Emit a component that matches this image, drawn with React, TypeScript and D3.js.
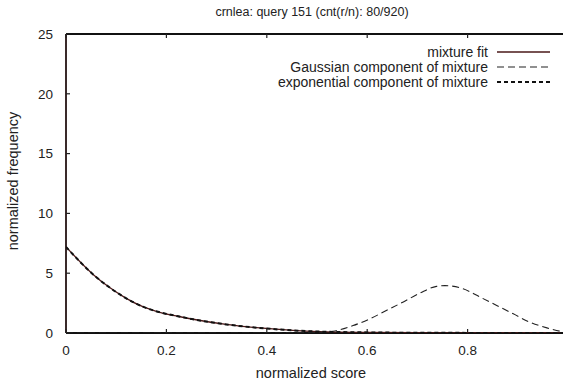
import React from "react";
import * as d3 from "d3";

const titleText = "crnlea: query 151 (cnt(r/n): 80/920)";
const xLabel = "normalized score";
const yLabel = "normalized frequency";
const xTicks = [0, 0.2, 0.4, 0.6, 0.8];
const xTickLabels = ["0", "0.2", "0.4", "0.6", "0.8"];
const yTicks = [0, 5, 10, 15, 20, 25];
const legendLabels = ["mixture fit", "Gaussian component of mixture", "exponential component of mixture"];

const mixScores = [0, 0.054, 0.087, 0.12, 0.153, 0.187, 0.223, 0.253, 0.319, 0.386, 0.452, 0.505, 0.6, 0.7, 0.8, 0.9, 1.0];
const mixValues = [7.2, 4.9, 3.8, 2.9, 2.2, 1.73, 1.4, 1.15, 0.72, 0.42, 0.22, 0.12, 0.05, 0.02, 0.01, 0.0, 0.0];
const expScores = [0, 0.054, 0.087, 0.12, 0.153, 0.187, 0.223, 0.253, 0.319, 0.386, 0.452, 0.505, 0.6, 0.7, 0.8, 0.9, 1.0];
const expValues = [7.2, 4.9, 3.8, 2.9, 2.2, 1.73, 1.4, 1.15, 0.72, 0.42, 0.22, 0.12, 0.05, 0.02, 0.01, 0.0, 0.0];
const gaussScores = [0, 0.1, 0.2, 0.3, 0.4, 0.5, 0.532, 0.572, 0.606, 0.639, 0.672, 0.705, 0.738, 0.755, 0.791, 0.825, 0.858, 0.891, 0.924, 0.958, 0.987, 1.0];
const gaussValues = [0, 0, 0, 0, 0, 0.05, 0.15, 0.62, 1.2, 1.9, 2.6, 3.33, 3.9, 3.96, 3.7, 3.0, 2.3, 1.6, 0.9, 0.43, 0.13, 0.08];

const W = 563;
const H = 382;
const left = 66;
const right = 568;
const top = 34;
const bottom = 333;
const font = "'Liberation Sans', Arial, Helvetica, sans-serif";
const fs = 13.5;
const fsLabel = 14.5;
const fsLegend = 14;

export default function App() {
  const x = d3.scaleLinear().domain([0, 1]).range([left, right]);
  const y = d3.scaleLinear().domain([0, 25]).range([bottom, top]);
  const line = d3
    .line<[number, number]>()
    .x((d) => x(d[0]))
    .y((d) => y(d[1]))
    .curve(d3.curveMonotoneX);
  const mix = line(mixScores.map((s, i) => [s, mixValues[i]]) as [number, number][]) || "";
  const exp = line(expScores.map((s, i) => [s, expValues[i]]) as [number, number][]) || "";
  const gau = line(gaussScores.map((s, i) => [s, gaussValues[i]]) as [number, number][]) || "";

  const legendY = [52, 67, 82];
  const lx1 = 497;
  const lx2 = 550;
  const styles = [
    { stroke: "#4a1818", width: 1.3, dash: "none" },
    { stroke: "#222", width: 1.1, dash: "7,4" },
    { stroke: "#111", width: 2, dash: "4,3" },
  ];

  return (
    <svg width={W} height={H} style={{ position: "absolute", left: 0, top: 0, background: "#fff" }}>
      <defs>
        <clipPath id="clip">
          <rect x={left} y={top} width={right - left} height={bottom - top} />
        </clipPath>
      </defs>
      <rect x={0} y={0} width={W} height={H} fill="#fff" />
      <text x={312} y={12} dy="0.35em" textAnchor="middle" fontFamily={font} fontSize={12.5} fill="#222">
        {titleText}
      </text>
      <line x1={left} x2={W} y1={top} y2={top} stroke="#111" strokeWidth={2} />
      <line x1={left} x2={W} y1={bottom} y2={bottom} stroke="#111" strokeWidth={2} />
      <line x1={left} x2={left} y1={top} y2={bottom} stroke="#3a2a2a" strokeWidth={2} />
      {yTicks.map((t) => (
        <g key={"y" + t}>
          <line x1={left} x2={left + 4} y1={y(t)} y2={y(t)} stroke="#222" strokeWidth={1.2} />
          <text x={53} y={y(t)} dy="0.35em" textAnchor="end" fontFamily={font} fontSize={fs} fill="#222">
            {t}
          </text>
        </g>
      ))}
      {xTicks.map((t, i) => (
        <g key={"x" + t}>
          <line x1={x(t)} x2={x(t)} y1={bottom} y2={bottom - 4} stroke="#222" strokeWidth={1.2} />
          <line x1={x(t)} x2={x(t)} y1={top} y2={top + 4} stroke="#222" strokeWidth={1.2} />
          <text x={x(t)} y={350} dy="0.35em" textAnchor="middle" fontFamily={font} fontSize={fs} fill="#222">
            {xTickLabels[i]}
          </text>
        </g>
      ))}
      <text x={311} y={373} dy="0.35em" textAnchor="middle" fontFamily={font} fontSize={fsLabel} fill="#222">
        {xLabel}
      </text>
      <text
        transform={`translate(18,${181}) rotate(-90)`}
        textAnchor="middle"
        fontFamily={font}
        fontSize={fsLabel}
        fill="#222"
      >
        {yLabel}
      </text>
      <g clipPath="url(#clip)" fill="none">
        <path d={mix} stroke={styles[0].stroke} strokeWidth={styles[0].width} />
        <path d={gau} stroke={styles[1].stroke} strokeWidth={styles[1].width} strokeDasharray={styles[1].dash} />
        <path d={exp} stroke={styles[2].stroke} strokeWidth={styles[2].width} strokeDasharray={styles[2].dash} />
      </g>
      {legendLabels.map((l, i) => (
        <g key={l}>
          <text x={488} y={legendY[i]} dy="0.35em" textAnchor="end" fontFamily={font} fontSize={fsLegend} fill="#222">
            {l}
          </text>
          <line
            x1={lx1}
            x2={lx2}
            y1={legendY[i]}
            y2={legendY[i]}
            stroke={styles[i].stroke}
            strokeWidth={styles[i].width}
            strokeDasharray={styles[i].dash}
          />
        </g>
      ))}
    </svg>
  );
}
